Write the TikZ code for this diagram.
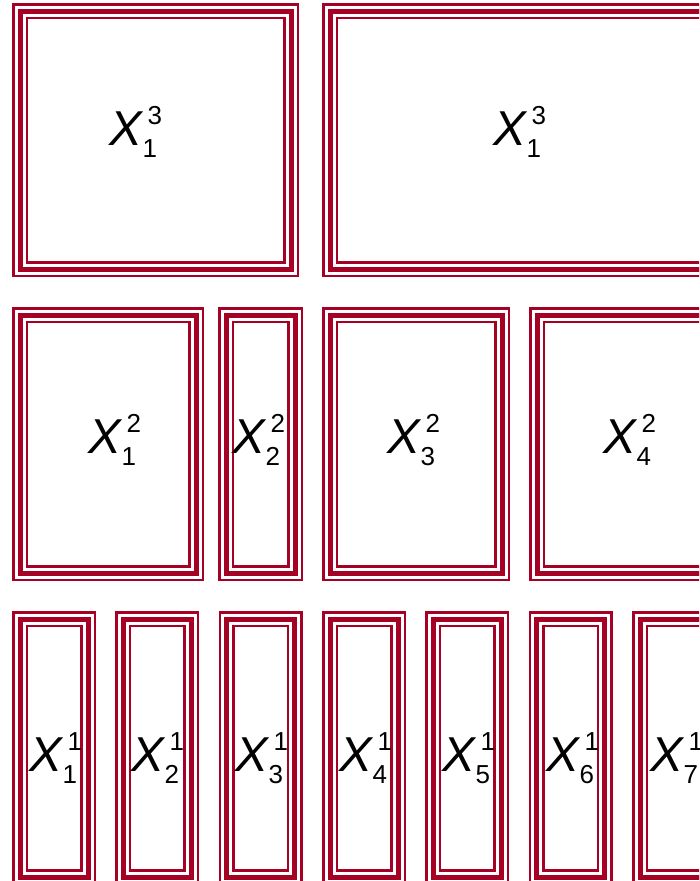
\documentclass[tikz,border=0pt]{standalone}
\usepackage{fontspec}
\setmainfont{Liberation Sans}
\definecolor{frameRed}{RGB}{166,0,36}
\newcommand{\digfont}{\fontsize{26}{26}\selectfont\upshape}
\newcommand{\xlab}[2]{{\fontsize{49}{49}\selectfont\itshape X}\rlap{\hspace{6pt}\raisebox{20.5pt}{\digfont #1}}\hspace{1pt}\raisebox{-12pt}{\digfont #2}}
\tikzset{
  frame/.style={draw=frameRed, line width=16pt, inner sep=0pt, outer sep=0pt, rectangle,
    postaction={draw=white, line width=11pt},
    postaction={draw=frameRed, line width=5pt}},
  lab/.style={anchor=base west, inner sep=0pt, outer sep=0pt, text=black}
}
\begin{document}
\begin{tikzpicture}[x=1pt,y=-1pt]
\useasboundingbox (0,0) rectangle (699,881);
\clip (0,0) rectangle (699,881);
% row 1
\node[frame, minimum width=271pt, minimum height=258pt] (a1) at (155.5,140) {};
\node[frame, minimum width=382pt, minimum height=258pt] (a2) at (521,140) {};
% row 2
\node[frame, minimum width=176pt, minimum height=258pt] (b1) at (108,444) {};
\node[frame, minimum width=69pt, minimum height=258pt] (b2) at (260.5,444) {};
\node[frame, minimum width=172pt, minimum height=258pt] (b3) at (416,444) {};
\node[frame, minimum width=188pt, minimum height=258pt] (b4) at (631,444) {};
% row 3
\foreach \i/\cx in {1/54, 2/157.3, 3/260.6, 4/364, 5/467.3, 6/570.6, 7/674} {
  \node[frame, minimum width=68pt, minimum height=258pt] (c\i) at (\cx,748) {};
}
% labels
\node[lab] (la1) at (109,145) {\xlab{3}{1}};
\node[lab] (la2) at (493,145) {\xlab{3}{1}};
\node[lab] (lb1) at (88,453) {\xlab{2}{1}};
\node[lab] (lb2) at (232,453) {\xlab{2}{2}};
\node[lab] (lb3) at (387,453) {\xlab{2}{3}};
\node[lab] (lb4) at (603,453) {\xlab{2}{4}};
\foreach \i/\lx in {1/29, 2/131, 3/235, 4/339, 5/442, 6/546, 7/650} {
  \node[lab] (lc\i) at (\lx,771) {\xlab{1}{\i}};
}
\end{tikzpicture}
\end{document}
